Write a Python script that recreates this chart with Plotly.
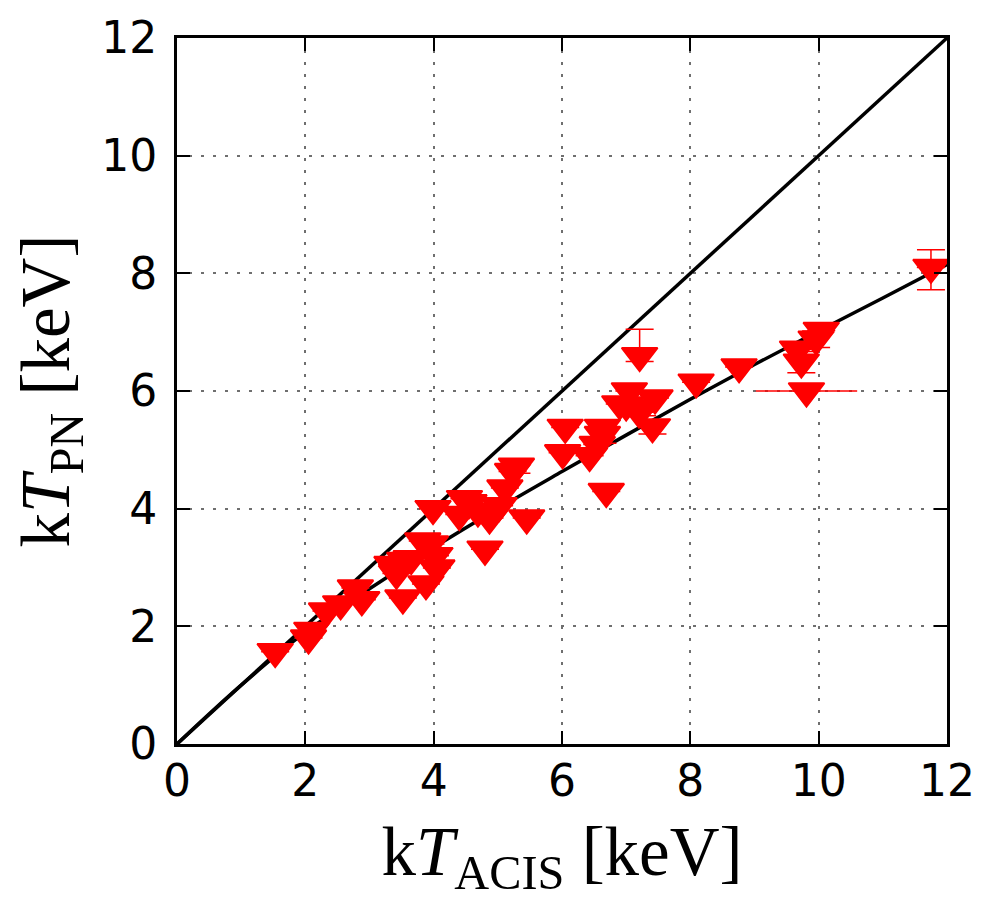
import plotly.graph_objects as go

# Measured temperatures (keV)
kt_acis = [1.53, 2.05, 2.10, 2.33, 2.55, 2.78, 2.88, 3.35, 3.42, 3.52,
           3.55, 3.65, 3.83, 3.88, 3.95, 4.02, 4.05, 3.99, 4.40, 4.48,
           4.55, 4.69, 4.80, 4.87, 5.02, 5.11, 5.23, 5.29, 5.45, 6.01,
           6.05, 6.43, 6.55, 6.63, 6.63, 6.69, 6.90, 7.00, 7.05, 7.21,
           7.20, 7.25, 7.45, 7.41, 8.09, 8.76, 9.67, 9.73, 9.81, 9.96,
           10.04, 11.75]
kt_pn = [1.57, 1.80, 1.93, 2.26, 2.38, 2.65, 2.45, 3.05, 2.90, 2.48,
         3.12, 3.15, 3.45, 2.72, 3.40, 3.20, 2.99, 4.00, 3.90, 4.17,
         4.10, 3.96, 3.31, 3.84, 4.05, 4.35, 4.63, 4.72, 3.84, 4.95,
         5.38, 4.90, 5.09, 5.38, 5.26, 4.29, 5.78, 5.76, 6.00, 6.60,
         5.64, 5.70, 5.88, 5.39, 6.15, 6.41, 6.71, 6.49, 6.00, 6.88,
         7.03, 8.10]
# error bars (None = no visible error bar)
err_pn_plus = [None] * 27 + [0.12] + [None] * 6 + [0.15] + [None] * 4 + [0.45] + \
              [None, 0.12, None, 0.12] + [None] * 3 + [0.18, None, 0.14, None, 0.30]
err_pn_minus = [None] * 27 + [0.12] + [None] * 6 + [0.15] + [None] * 4 + [0.10] + \
               [None, 0.12, None, 0.12] + [None] * 3 + [0.18, None, 0.14, None, 0.38]
err_acis = [None] * 48 + [0.79, None, None, 0.22]

# one-to-one line and fitted relation
diag_x = [0, 12]
diag_y = [0, 12]
fit_x = [0, 1, 2, 3, 4, 5, 6, 7, 8, 9, 10, 11, 12]
fit_y = [0, 1.0, 1.9, 2.64, 3.34, 4.0, 4.63, 5.25, 5.86, 6.45, 7.02, 7.58, 8.15]

tick_vals = [0, 2, 4, 6, 8, 10, 12]

fig = go.Figure()
fig.add_trace(go.Scatter(x=diag_x, y=diag_y, mode="lines",
                         line=dict(color="black", width=3.5), hoverinfo="skip"))
fig.add_trace(go.Scatter(x=fit_x, y=fit_y, mode="lines", line_shape="spline",
                         line=dict(color="black", width=3.5), hoverinfo="skip"))
fig.add_trace(go.Scatter(
    x=kt_acis, y=kt_pn, mode="markers",
    marker=dict(symbol="triangle-down", size=31, color="red",
                line=dict(color="red", width=2)),
    error_y=dict(type="data", array=err_pn_plus, arrayminus=err_pn_minus,
                 symmetric=False, color="red", thickness=1.5, width=14),
    error_x=dict(type="data", array=err_acis, color="red", thickness=1.5, width=0),
))

axis_common = dict(
    range=[0, 12], tickvals=tick_vals, ticks="inside", ticklen=13, tickwidth=1.5,
    tickcolor="black", showline=True, linecolor="black", linewidth=3, mirror="ticks",
    showgrid=True, gridcolor="#6f6f6f", gridwidth=1.5, griddash="3px,9px",
    zeroline=False, tickfont=dict(family="DejaVu Sans", size=44, color="black"),
)

fig.update_layout(
    width=987, height=899, showlegend=False,
    paper_bgcolor="white", plot_bgcolor="white",
    margin=dict(l=177, r=39, t=34, b=155),
    xaxis=dict(**axis_common, ticklabelstandoff=-4,
               title=dict(text="k<i>T</i><sub>ACIS</sub> [keV]", standoff=22,
                          font=dict(family="Liberation Serif", size=69, color="black"))),
    yaxis=dict(**axis_common, ticklabelstandoff=8,
               title=dict(text="k<i>T</i><sub>PN</sub> [keV]", standoff=10,
                          font=dict(family="Liberation Serif", size=69, color="black"))),
)

fig.write_html("out.html")
